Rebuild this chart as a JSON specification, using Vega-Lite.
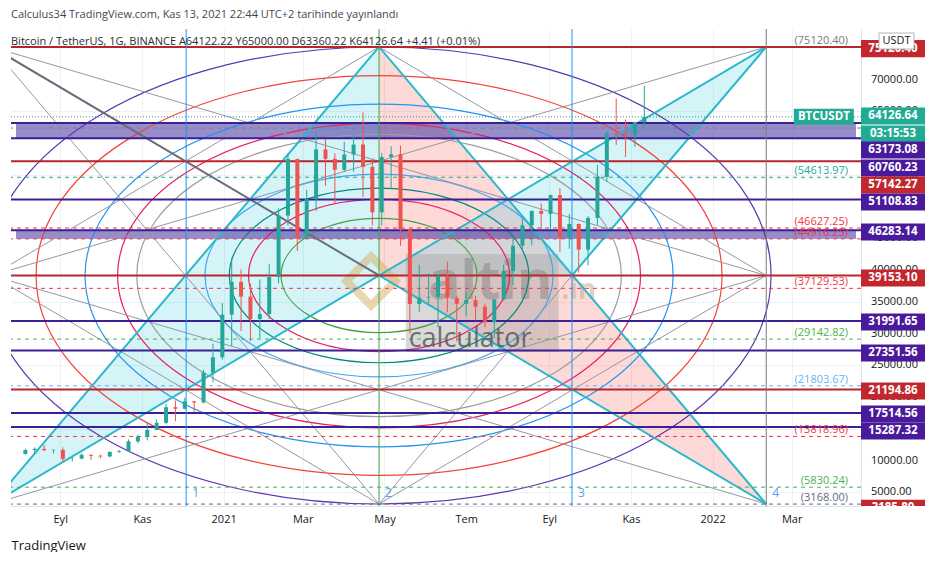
{
"$schema":"https://vega.github.io/schema/vega-lite/v6.json",
"autosize":{"type":"pad"},
"padding":{"left":10,"top":8,"right":0,"bottom":0},
"background":"white",
"title":{"text":"Calculus34 TradingView.com, Kas 13, 2021 22:44 UTC+2 tarihinde yayınlandı","subtitle":"Bitcoin / TetherUS, 1G, BINANCE   A64122.22   Y65000.00   D63360.22   K64126.64   +4.41 (+0.01%)","anchor":"start","frame":"group","offset":-18,"subtitlePadding":16,"font":"Open Sans","fontSize":11,"fontWeight":"normal","color":"#434651","subtitleFont":"Open Sans","subtitleFontSize":11,"subtitleColor":"#2a2e39"},
"spacing":0,
"bounds":"flush",
"resolve":{"scale":{"color":"independent"}},
"config":{"view":{"stroke":null},"text":{"font":"Open Sans"}},
"datasets":{
"candles":[
{"d":"2020-08-06","o":11070,"h":11900,"l":10950,"c":11680},
{"d":"2020-08-13","o":11680,"h":12100,"l":11120,"c":11860},
{"d":"2020-08-20","o":11860,"h":12470,"l":11520,"c":11650},
{"d":"2020-08-27","o":11650,"h":11800,"l":11130,"c":11710},
{"d":"2020-09-03","o":11710,"h":12090,"l":9880,"c":10280},
{"d":"2020-09-10","o":10280,"h":10580,"l":9880,"c":10330},
{"d":"2020-09-17","o":10330,"h":11180,"l":10210,"c":10920},
{"d":"2020-09-24","o":10920,"h":10990,"l":10140,"c":10780},
{"d":"2020-10-01","o":10780,"h":10950,"l":10370,"c":10670},
{"d":"2020-10-08","o":10670,"h":11490,"l":10540,"c":11380},
{"d":"2020-10-15","o":11380,"h":11720,"l":11220,"c":11500},
{"d":"2020-10-22","o":11500,"h":13350,"l":11410,"c":13030},
{"d":"2020-10-29","o":13030,"h":14090,"l":12740,"c":13790},
{"d":"2020-11-05","o":13790,"h":15960,"l":13200,"c":14840},
{"d":"2020-11-12","o":14840,"h":16480,"l":14800,"c":15960},
{"d":"2020-11-19","o":15960,"h":18950,"l":15790,"c":18420},
{"d":"2020-11-26","o":18420,"h":19480,"l":16200,"c":18180},
{"d":"2020-12-03","o":18180,"h":19900,"l":18100,"c":19350},
{"d":"2020-12-10","o":19350,"h":19420,"l":17630,"c":19170},
{"d":"2020-12-17","o":19170,"h":24300,"l":19000,"c":23860},
{"d":"2020-12-24","o":23860,"h":28400,"l":22350,"c":26280},
{"d":"2020-12-31","o":26280,"h":34800,"l":25900,"c":33000},
{"d":"2021-01-07","o":33000,"h":41950,"l":28100,"c":38150},
{"d":"2021-01-14","o":38150,"h":40100,"l":30400,"c":35830},
{"d":"2021-01-21","o":35830,"h":37850,"l":28800,"c":32290},
{"d":"2021-01-28","o":32290,"h":38530,"l":29240,"c":33090},
{"d":"2021-02-04","o":33090,"h":41000,"l":32300,"c":38900},
{"d":"2021-02-11","o":38900,"h":49700,"l":37900,"c":48580},
{"d":"2021-02-18","o":48580,"h":58350,"l":47000,"c":57480},
{"d":"2021-02-25","o":57480,"h":57550,"l":43000,"c":45140},
{"d":"2021-03-04","o":45140,"h":52650,"l":44950,"c":51170},
{"d":"2021-03-11","o":51170,"h":61780,"l":49300,"c":59000},
{"d":"2021-03-18","o":59000,"h":60630,"l":53270,"c":57520},
{"d":"2021-03-25","o":57520,"h":58400,"l":50420,"c":55780},
{"d":"2021-04-01","o":55780,"h":60200,"l":55450,"c":58200},
{"d":"2021-04-08","o":58200,"h":61300,"l":55470,"c":59770},
{"d":"2021-04-15","o":59770,"h":64850,"l":51540,"c":56250},
{"d":"2021-04-22","o":56250,"h":57550,"l":47050,"c":49100},
{"d":"2021-04-29","o":49100,"h":58460,"l":47040,"c":57800},
{"d":"2021-05-06","o":57800,"h":59500,"l":52950,"c":58240},
{"d":"2021-05-13","o":58240,"h":59600,"l":43820,"c":46430},
{"d":"2021-05-20","o":46430,"h":46670,"l":30000,"c":34670},
{"d":"2021-05-27","o":34670,"h":40840,"l":33430,"c":35660},
{"d":"2021-06-03","o":35660,"h":39480,"l":34800,"c":35800},
{"d":"2021-06-10","o":35800,"h":39380,"l":31000,"c":39100},
{"d":"2021-06-17","o":39100,"h":41330,"l":33350,"c":35600},
{"d":"2021-06-24","o":35600,"h":36000,"l":28800,"c":34700},
{"d":"2021-07-01","o":34700,"h":36600,"l":32700,"c":35290},
{"d":"2021-07-08","o":35290,"h":35950,"l":32080,"c":34260},
{"d":"2021-07-15","o":34260,"h":34700,"l":31020,"c":31780},
{"d":"2021-07-22","o":31780,"h":35400,"l":29280,"c":35400},
{"d":"2021-07-29","o":35400,"h":40900,"l":35200,"c":39850},
{"d":"2021-08-05","o":39850,"h":45300,"l":37640,"c":43830},
{"d":"2021-08-12","o":43830,"h":48150,"l":42800,"c":47050},
{"d":"2021-08-19","o":47050,"h":49400,"l":43900,"c":49300},
{"d":"2021-08-26","o":49300,"h":50500,"l":46350,"c":48850},
{"d":"2021-09-02","o":48850,"h":51900,"l":46500,"c":51800},
{"d":"2021-09-09","o":51800,"h":52920,"l":42830,"c":45170},
{"d":"2021-09-16","o":45170,"h":48840,"l":43370,"c":47260},
{"d":"2021-09-23","o":47260,"h":47330,"l":39600,"c":43210},
{"d":"2021-09-30","o":43210,"h":48500,"l":40750,"c":48200},
{"d":"2021-10-07","o":48200,"h":56560,"l":47100,"c":54660},
{"d":"2021-10-14","o":54660,"h":62000,"l":53900,"c":61530},
{"d":"2021-10-21","o":61530,"h":67000,"l":59700,"c":61310},
{"d":"2021-10-28","o":61310,"h":63700,"l":57800,"c":61300},
{"d":"2021-11-04","o":61300,"h":63300,"l":59400,"c":63300},
{"d":"2021-11-11","o":63300,"h":69000,"l":62300,"c":64126.64}
],
"levels":[
{"p":75120.4,"k":"lr"},{"p":63173.08,"k":"lp"},{"p":60760.23,"k":"lp"},{"p":57142.27,"k":"lr"},
{"p":51108.83,"k":"lp"},{"p":46283.14,"k":"lp"},{"p":39153.1,"k":"lr"},{"p":31991.65,"k":"lp"},
{"p":27351.56,"k":"lp"},{"p":21194.86,"k":"lr"},{"p":17514.56,"k":"lp"},{"p":15287.32,"k":"lp"}
],
"bands":[{"lo":60760.23,"hi":63173.08,"k":"band"},{"lo":44916.25,"hi":46283.14,"k":"band"}],
"fibs":[
{"p":75120.4,"lab":"(75120.40)","k":"fgray"},
{"p":62360,"lab":"","k":"fgray"},
{"p":54613.97,"lab":"(54613.97)","k":"fteal"},
{"p":46627.25,"lab":"(46627.25)","k":"fred"},
{"p":44916.25,"lab":"(44916.25)","k":"fred"},
{"p":37129.53,"lab":"(37129.53)","k":"fred"},
{"p":29142.82,"lab":"(29142.82)","k":"fgreen"},
{"p":21803.67,"lab":"(21803.67)","k":"flblue"},
{"p":13818.96,"lab":"(13818.96)","k":"fred"},
{"p":5830.24,"lab":"(5830.24)","k":"fgreen"},
{"p":3168,"lab":"(3168.00)","k":"fslate"}
],
"fan":[
{"x1":"2020-07-12","y1":75120.4,"x2":"2022-02-10","y2":39153.1,"k":"fan"},
{"x1":"2020-07-12","y1":75120.4,"x2":"2021-04-27","y2":3185.8,"k":"fan"},
{"x1":"2020-07-12","y1":3185.8,"x2":"2022-02-10","y2":39153.1,"k":"fan"},
{"x1":"2021-04-27","y1":75120.4,"x2":"2022-02-10","y2":39153.1,"k":"fan"},
{"x1":"2021-04-27","y1":75120.4,"x2":"2020-07-12","y2":39153.1,"k":"fan"},
{"x1":"2021-04-27","y1":3185.8,"x2":"2020-07-12","y2":39153.1,"k":"fan"},
{"x1":"2021-04-27","y1":3185.8,"x2":"2022-02-10","y2":39153.1,"k":"fan"},
{"x1":"2020-07-12","y1":39153.1,"x2":"2022-02-10","y2":75120.4,"k":"fan"},
{"x1":"2020-07-12","y1":39153.1,"x2":"2022-02-10","y2":3185.8,"k":"fan"},
{"x1":"2021-04-27","y1":3185.8,"x2":"2021-09-18","y2":39153.1,"k":"fan"}
],
"cyanl":[
{"x1":"2020-07-12","y1":75120.4,"x2":"2021-04-27","y2":39153.1,"k":"fand"},
{"x1":"2021-04-27","y1":39153.1,"x2":"2022-02-10","y2":3185.8,"k":"cyan"},
{"x1":"2020-07-12","y1":3185.8,"x2":"2022-02-10","y2":75120.4,"k":"cyan"},
{"x1":"2020-07-12","y1":3185.8,"x2":"2021-04-27","y2":75120.4,"k":"cyan"},
{"x1":"2021-04-27","y1":75120.4,"x2":"2022-02-10","y2":3185.8,"k":"cyan"},
{"x1":"2021-09-18","y1":39153.1,"x2":"2022-02-10","y2":75120.4,"k":"cyan"}
],
"tri":[
{"g":"a","d":"2020-07-12","t":3185.8,"b":3185.8,"k":"cf"},
{"g":"a","d":"2021-04-27","t":75120.4,"b":39153.1,"k":"cf"},
{"g":"b","d":"2021-04-27","t":75120.4,"b":39153.1,"k":"pf"},
{"g":"b","d":"2022-02-10","t":3185.8,"b":3185.8,"k":"pf"},
{"g":"c","d":"2021-04-27","t":39153.1,"b":39153.1,"k":"cf"},
{"g":"c","d":"2021-09-18","t":57136.75,"b":39153.1,"k":"cf"},
{"g":"c","d":"2022-02-10","t":75120.4,"b":75120.4,"k":"cf"}
],
"ell":[
{"lvl":0.25,"k":"e25"},{"lvl":0.333,"k":"e33"},{"lvl":0.382,"k":"e38"},{"lvl":0.444,"k":"e44"},
{"lvl":0.618,"k":"e62"},{"lvl":0.667,"k":"e67"},{"lvl":0.75,"k":"e75"},{"lvl":0.875,"k":"e88"},{"lvl":1,"k":"e100"}
],
"vl":[
{"d":"2020-12-04","n":"1","k":"v1"},{"d":"2021-04-27","n":"2","k":"v2"},
{"d":"2021-09-18","n":"3","k":"v3"},{"d":"2022-02-10","n":"4","k":"v4"}
],
"ticksY":[
{"v":5000},{"v":10000},{"v":15000},{"v":20000},{"v":25000},{"v":30000},{"v":35000},
{"v":40000},{"v":45000},{"v":50000},{"v":55000},{"v":60000},{"v":65000},{"v":70000}
],
"tags":[
{"at":74860,"lab":"75120.40","k":"r"},
{"at":64257,"lab":"64126.64","k":"t"},
{"at":61424,"lab":"03:15:53","k":"t"},
{"at":58900,"lab":"63173.08","k":"p"},
{"at":56060,"lab":"60760.23","k":"p"},
{"at":53390,"lab":"57142.27","k":"r"},
{"at":50720,"lab":"51108.83","k":"p"},
{"at":45990,"lab":"46283.14","k":"p"},
{"at":38750,"lab":"39153.10","k":"r"},
{"at":31830,"lab":"31991.65","k":"p"},
{"at":26950,"lab":"27351.56","k":"p"},
{"at":20970,"lab":"21194.86","k":"r"},
{"at":17350,"lab":"17514.56","k":"p"},
{"at":14670,"lab":"15287.32","k":"p"},
{"at":2500,"lab":"3185.80","k":"r"}
]
},
"hconcat":[
{
"width":850,"height":477,
"encoding":{"color":{"field":"k","type":"nominal","legend":null,"scale":{
"domain":["lr","lp","band","fgray","fteal","fred","fgreen","flblue","fslate","fan","fand","cyan","cf","pf","e25","e33","e38","e44","e62","e67","e75","e88","e100","v1","v2","v3","v4","wm"],
"range":["#b5262d","#3b1f94","#3f2f9f","#787b86","#22ab94","#f23645","#4caf50","#64b5f6","#5d6c80","#9598a1","#6a6d78","#2bb7cc","#26c6da","#f44336","#43a047","#e91e63","#00897b","#42a5f5","#9e9e9e","#e91e63","#2196f3","#f44336","#5e35b1","#2196f3","#43a047","#2196f3","#787b86","#a0a0a0"]}}},
"layer":[
{"data":{"name":"tri"},"mark":{"type":"area","opacity":0.2,"clip":true},
 "encoding":{"x":{"field":"d","type":"temporal","scale":{"domain":[{"year":2020,"month":7,"date":30},{"year":2022,"month":4,"date":18}]}},
  "y":{"field":"t","type":"quantitative","scale":{"domain":[2870,77950],"nice":false,"zero":false}},"y2":{"field":"b"},"detail":{"field":"g"}}},
{"data":{"name":"bands"},"mark":{"type":"rect","opacity":0.55},
 "encoding":{"x":{"datum":{"year":2020,"month":7,"date":30},"type":"temporal","scale":{"domain":[{"year":2020,"month":7,"date":30},{"year":2022,"month":4,"date":18}]}},
  "x2":{"datum":{"year":2022,"month":4,"date":18}},
  "y":{"field":"lo","type":"quantitative","scale":{"domain":[2870,77950],"nice":false,"zero":false}},"y2":{"field":"hi"}}},
{"data":{"values":[{"k":"wm"}]},"mark":{"type":"rect","opacity":0.4},
 "encoding":{"x":{"datum":{"year":2021,"month":5,"date":17},"type":"temporal"},"x2":{"datum":{"year":2021,"month":9,"date":8}},
  "y":{"datum":27100,"type":"quantitative"},"y2":{"datum":42520}}},
{"data":{"values":[{"k":"wm"}]},"mark":{"type":"text","text":"altin","fontSize":54,"fontWeight":"bold","align":"center","baseline":"alphabetic","opacity":0.55},
 "encoding":{"x":{"datum":{"year":2021,"month":7,"date":19},"type":"temporal"},"y":{"datum":35450,"type":"quantitative"},"color":{"value":"#8a8a8a"}}},
{"data":{"values":[{"k":"wm"}]},"mark":{"type":"text","text":".in","fontSize":28,"fontWeight":"bold","align":"left","baseline":"alphabetic","opacity":0.6},
 "encoding":{"x":{"datum":{"year":2021,"month":9,"date":10},"type":"temporal"},"y":{"datum":35450,"type":"quantitative"},"color":{"value":"#c9b497"}}},
{"data":{"values":[{"k":"wm"}]},"mark":{"type":"point","shape":"diamond","filled":false,"strokeWidth":8,"size":2400,"opacity":0.5},
 "encoding":{"x":{"datum":{"year":2021,"month":4,"date":21},"type":"temporal"},"y":{"datum":38280,"type":"quantitative"},"color":{"value":"#d4b062"}}},
{"data":{"name":"ell"},"mark":{"type":"point","shape":"M1,0C1,0.3219 0.5523,0.5829 0,0.5829C-0.5523,0.5829 -1,0.3219 -1,0C-1,-0.3219 -0.5523,-0.5829 0,-0.5829C0.5523,-0.5829 1,-0.3219 1,0Z","filled":false,"strokeWidth":1.2,"opacity":1,"clip":true},
 "encoding":{"x":{"datum":{"year":2021,"month":4,"date":27},"type":"temporal"},"y":{"datum":39153.1,"type":"quantitative"},
  "size":{"field":"lvl","type":"quantitative","legend":null,"scale":{"type":"pow","exponent":2,"domain":[0,1],"range":[0,614656]}}}},
{"data":{"name":"fan"},"mark":{"type":"rule","strokeWidth":1,"clip":true},
 "encoding":{"x":{"field":"x1","type":"temporal"},"x2":{"field":"x2"},"y":{"field":"y1","type":"quantitative"},"y2":{"field":"y2"}}},
{"data":{"name":"cyanl"},"mark":{"type":"rule","strokeWidth":2,"clip":true},
 "encoding":{"x":{"field":"x1","type":"temporal"},"x2":{"field":"x2"},"y":{"field":"y1","type":"quantitative"},"y2":{"field":"y2"}}},
{"data":{"name":"fibs"},"mark":{"type":"rule","strokeWidth":1,"strokeDash":[4,4]},
 "encoding":{"y":{"field":"p","type":"quantitative"}}},
{"data":{"name":"levels"},"mark":{"type":"rule","strokeWidth":2},
 "encoding":{"y":{"field":"p","type":"quantitative"}}},
{"data":{"values":[{"p":64126.64}]},"mark":{"type":"rule","strokeWidth":1,"strokeDash":[1,2]},
 "encoding":{"y":{"field":"p","type":"quantitative"},"color":{"value":"#3d8a82"}}},
{"data":{"name":"vl"},"mark":{"type":"rule","strokeWidth":1},
 "encoding":{"x":{"field":"d","type":"temporal"}}},
{"data":{"name":"candles"},"mark":{"type":"rule","strokeWidth":1},
 "encoding":{"x":{"field":"d","type":"temporal","scale":{"domain":[{"year":2020,"month":7,"date":30},{"year":2022,"month":4,"date":18}]},
   "axis":{"title":"TradingView","titleAnchor":"start","titleAlign":"left","titlePadding":15,"titleFontSize":13,"titleFontWeight":"normal","titleColor":"#131722","titleFont":"Open Sans",
    "values":[{"year":2020,"month":9,"date":1},{"year":2020,"month":11,"date":1},{"year":2021,"month":1,"date":1},{"year":2021,"month":3,"date":1},{"year":2021,"month":5,"date":1},{"year":2021,"month":7,"date":1},{"year":2021,"month":9,"date":1},{"year":2021,"month":11,"date":1},{"year":2022,"month":1,"date":1},{"year":2022,"month":3,"date":1}],
    "labelExpr":"month(datum.value)==0 ? timeFormat(datum.value,'%Y') : ['Oca','Şub','Mar','Nis','May','Haz','Tem','Ağu','Eyl','Eki','Kas','Ara'][month(datum.value)]",
    "ticks":false,"labelPadding":7,"labelFontSize":11,"labelColor":"#131722","labelFont":"Open Sans","labelFlush":false,"labelOverlap":false,"grid":true,"gridColor":"#eef1f7","domainColor":"#e0e3eb"}},
  "y":{"field":"l","type":"quantitative","scale":{"domain":[2870,77950],"nice":false,"zero":false},
   "axis":{"orient":"right","title":null,"values":[5000,10000,15000,20000,25000,30000,35000,40000,45000,50000,55000,60000,65000,70000],"labels":false,"ticks":false,"grid":true,"gridColor":"#eef1f7","domainColor":"#e0e3eb"}},
  "y2":{"field":"h"},
  "color":{"condition":{"test":"datum.c >= datum.o","value":"#26a69a"},"value":"#ef5350"}}},
{"data":{"name":"candles"},"mark":{"type":"bar","size":4},
 "encoding":{"x":{"field":"d","type":"temporal"},"y":{"field":"o","type":"quantitative"},"y2":{"field":"c"},
  "color":{"condition":{"test":"datum.c >= datum.o","value":"#26a69a"},"value":"#ef5350"}}},
{"data":{"values":[{"k":"wm"}]},"mark":{"type":"text","text":"calculator","fontSize":27,"align":"center","baseline":"alphabetic","opacity":0.85},
 "encoding":{"x":{"datum":{"year":2021,"month":7,"date":4},"type":"temporal"},"y":{"datum":27930,"type":"quantitative"},"color":{"value":"#5c5c5c"}}},
{"data":{"name":"fibs"},"mark":{"type":"text","fontSize":11,"align":"right","baseline":"alphabetic","dy":-3},
 "encoding":{"x":{"datum":{"year":2022,"month":4,"date":12},"type":"temporal"},"y":{"field":"p","type":"quantitative"},"text":{"field":"lab"}}},
{"data":{"name":"vl"},"mark":{"type":"text","fontSize":12,"align":"left","dx":6},
 "encoding":{"x":{"field":"d","type":"temporal"},"y":{"datum":4900,"type":"quantitative"},"text":{"field":"n"},"color":{"value":"#5b9cf6"}}},
{"data":{"values":[{"k":"x"}]},"mark":{"type":"point","shape":"M-1,-0.266L1,-0.266L1,0.266L-1,0.266Z","filled":true,"opacity":1,"size":3600},
 "encoding":{"x":{"datum":{"year":2022,"month":3,"date":25},"type":"temporal"},"y":{"datum":64126.64,"type":"quantitative"},"color":{"value":"#22ab94"}}},
{"data":{"values":[{"k":"x"}]},"mark":{"type":"text","text":"BTCUSDT","fontSize":11.5,"fontWeight":"bold"},
 "encoding":{"x":{"datum":{"year":2022,"month":3,"date":25},"type":"temporal"},"y":{"datum":64126.64,"type":"quantitative"},"color":{"value":"white"}}}
]
},
{
"width":80,"height":477,
"encoding":{"color":{"field":"k","type":"nominal","legend":null,"scale":{"domain":["r","p","t"],"range":["#c2272d","#4a1a9c","#22ab94"]}}},
"layer":[
{"data":{"name":"ticksY"},"mark":{"type":"text","fontSize":11,"align":"left"},
 "encoding":{"x":{"datum":0.125,"type":"quantitative","scale":{"domain":[0,1]},"axis":null},
  "y":{"field":"v","type":"quantitative","scale":{"domain":[2870,77950],"nice":false,"zero":false},"axis":null},
  "text":{"field":"v","type":"quantitative","format":".2f"},"color":{"value":"#131722"}}},
{"data":{"name":"tags"},"mark":{"type":"point","shape":"M-1,-0.266L1,-0.266L1,0.266L-1,0.266Z","filled":true,"opacity":1,"size":4096,"clip":true},
 "encoding":{"x":{"datum":0.4,"type":"quantitative"},
  "y":{"field":"at","type":"quantitative"}}},
{"data":{"name":"tags"},"mark":{"type":"text","fontSize":11.5,"fontWeight":"bold","clip":true},
 "encoding":{"x":{"datum":0.4,"type":"quantitative"},
  "y":{"field":"at","type":"quantitative"},
  "text":{"field":"lab"},"color":{"value":"white"}}},
{"data":{"values":[{"k":"u"}]},"mark":{"type":"point","shape":"M-1,-0.457L1,-0.457L1,0.457L-1,0.457Z","filled":true,"opacity":1,"size":1225,"stroke":"#b2b5be","strokeWidth":1},
 "encoding":{"x":{"datum":0.444,"type":"quantitative"},"y":{"datum":76060,"type":"quantitative"},"color":{"value":"white"}}},
{"data":{"values":[{"k":"u"}]},"mark":{"type":"text","text":"USDT","fontSize":11},
 "encoding":{"x":{"datum":0.444,"type":"quantitative"},"y":{"datum":76060,"type":"quantitative"},"color":{"value":"#131722"}}}
]
}
]
}
